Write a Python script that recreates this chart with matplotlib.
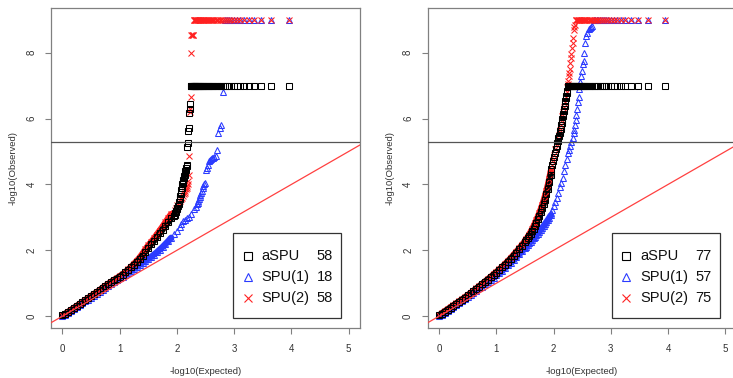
import numpy as np
import matplotlib
matplotlib.use('Agg')
import matplotlib.pyplot as plt
from matplotlib.patches import Rectangle

plt.rcParams['font.family'] = ['Liberation Sans', 'DejaVu Sans']

# ---------------- data ----------------
N_TESTS = 9000          # number of tests (genes) per panel
THRESHOLD = 5.3         # -log10(0.05 / N)
SERIES = ['aSPU', 'SPU(1)', 'SPU(2)']

# legend counts (left panel, right panel)
L_counts = [58, 18, 58]
R_counts = [77, 57, 75]

# ---- LEFT PANEL ----
# bulk of each QQ curve: (-log10 expected, -log10 observed)
L_bulk_exp = [0.00, 0.05, 0.10, 0.15, 0.20, 0.25, 0.30, 0.35, 0.40, 0.45,
              0.50, 0.55, 0.60, 0.65, 0.70, 0.75, 0.80, 0.85, 0.90, 0.95,
              1.00, 1.05, 1.10, 1.15, 1.20, 1.25, 1.30, 1.35, 1.40, 1.45,
              1.50, 1.55, 1.60, 1.65, 1.70, 1.75, 1.80, 1.85, 1.90]
L_aspu_bulk = [0.02, 0.07, 0.12, 0.18, 0.24, 0.30, 0.36, 0.42, 0.48, 0.54,
               0.60, 0.66, 0.72, 0.78, 0.85, 0.91, 0.97, 1.03, 1.09, 1.14,
               1.20, 1.26, 1.33, 1.40, 1.48, 1.56, 1.64, 1.73, 1.84, 1.96,
               2.08, 2.19, 2.29, 2.40, 2.52, 2.63, 2.75, 2.86, 2.97]
L_spu1_bulk = [0.00, 0.05, 0.10, 0.15, 0.21, 0.27, 0.33, 0.39, 0.45, 0.50,
               0.56, 0.62, 0.68, 0.74, 0.80, 0.86, 0.92, 0.98, 1.04, 1.10,
               1.15, 1.20, 1.26, 1.32, 1.38, 1.44, 1.50, 1.56, 1.62, 1.68,
               1.74, 1.80, 1.87, 1.94, 2.02, 2.10, 2.19, 2.28, 2.38]
L_spu2_bulk = [0.02, 0.07, 0.13, 0.19, 0.25, 0.31, 0.37, 0.43, 0.49, 0.55,
               0.61, 0.67, 0.73, 0.79, 0.86, 0.92, 0.98, 1.04, 1.10, 1.15,
               1.21, 1.27, 1.34, 1.42, 1.50, 1.59, 1.68, 1.78, 1.90, 2.03,
               2.15, 2.25, 2.36, 2.48, 2.60, 2.72, 2.85, 2.98, 3.10]
# upper tail: tests capped at the minimum p-value, then by rank
L_aspu_cap, L_aspu_ncap = 7.0, 52
L_aspu_tail_rank = [53, 54, 55, 56, 57, 58, 59, 60, 61, 62, 63, 64, 65, 66,
                    67, 68, 69, 70, 71, 72, 73, 74, 75, 76, 77, 78, 79, 80,
                    82, 84, 86, 88, 90, 92, 94, 96, 98, 100]
L_aspu_tail_obs = [6.45, 6.30, 6.18, 5.72, 5.62, 5.27, 5.15, 4.60, 4.55, 4.50,
                   4.45, 4.40, 4.35, 4.30, 4.25, 4.20, 4.15, 4.10, 4.05, 4.00,
                   3.95, 3.88, 3.82, 3.76, 3.70, 3.65, 3.60, 3.55,
                   3.48, 3.42, 3.36, 3.30, 3.25, 3.20, 3.16, 3.12, 3.08, 3.04]
L_spu1_cap, L_spu1_ncap = 9.0, 13
L_spu1_tail_rank = [14, 15, 16, 17, 18, 19, 20, 21, 22, 23, 24, 25, 26, 27,
                    28, 29, 30, 31, 32, 33, 34, 35, 36, 37, 38, 39, 40,
                    42, 45, 50, 55, 60, 65, 70, 75, 80, 90, 100]
L_spu1_tail_obs = [6.81, 5.80, 5.72, 5.57, 5.06, 4.85, 4.82, 4.80, 4.80, 4.78,
                   4.75, 4.72, 4.60, 4.50, 4.45, 4.05, 4.00, 3.95, 3.88, 3.80,
                   3.74, 3.68, 3.62, 3.55, 3.50, 3.45, 3.40,
                   3.33, 3.25, 3.10, 3.02, 2.97, 2.92, 2.88, 2.80, 2.72, 2.60, 2.50]
L_spu2_cap, L_spu2_ncap = 9.0, 46
L_spu2_tail_rank = [47, 48, 49, 50, 51, 52, 53, 54, 55, 56, 57, 58, 59, 60,
                    62, 64, 66, 68, 70, 73, 76, 80, 84, 88, 92, 96, 100]
L_spu2_tail_obs = [8.55, 8.55, 8.55, 8.55, 8.00, 6.65, 6.30, 6.20, 4.87, 4.30,
                   4.10, 4.02, 3.96, 3.90, 3.85, 3.80, 3.75, 3.70, 3.65,
                   3.60, 3.55, 3.50, 3.44, 3.38, 3.30, 3.22, 3.14]

# ---- RIGHT PANEL ----
R_bulk_exp = [0.00, 0.05, 0.10, 0.15, 0.20, 0.25, 0.30, 0.35, 0.40, 0.45,
              0.50, 0.55, 0.60, 0.65, 0.70, 0.75, 0.80, 0.85, 0.90, 0.95,
              1.00, 1.05, 1.10, 1.15, 1.20, 1.25, 1.30, 1.35, 1.40, 1.45,
              1.50, 1.525, 1.55, 1.575, 1.60, 1.625, 1.65, 1.675, 1.70, 1.725,
              1.75, 1.775, 1.80, 1.825, 1.85, 1.875, 1.90, 1.925, 1.95]
R_aspu_bulk = [0.02, 0.08, 0.14, 0.20, 0.26, 0.32, 0.38, 0.44, 0.50, 0.56,
               0.63, 0.69, 0.76, 0.83, 0.90, 0.97, 1.04, 1.11, 1.18, 1.25,
               1.32, 1.40, 1.48, 1.56, 1.65, 1.74, 1.83, 1.93, 2.03, 2.13,
               2.24, 2.30, 2.36, 2.43, 2.50, 2.58, 2.66, 2.75, 2.84, 2.94,
               3.04, 3.15, 3.27, 3.40, 3.54, 3.70, 3.87, 4.06, 4.30]
R_spu1_bulk = [0.00, 0.05, 0.11, 0.17, 0.23, 0.29, 0.35, 0.41, 0.47, 0.53,
               0.59, 0.65, 0.71, 0.77, 0.84, 0.90, 0.97, 1.03, 1.10, 1.17,
               1.24, 1.31, 1.38, 1.46, 1.54, 1.62, 1.70, 1.79, 1.88, 1.97,
               2.06, 2.11, 2.16, 2.21, 2.26, 2.31, 2.36, 2.41, 2.46, 2.51,
               2.56, 2.62, 2.68, 2.74, 2.80, 2.86, 2.92, 2.99, 3.06]
R_spu2_bulk = [0.03, 0.09, 0.15, 0.21, 0.27, 0.33, 0.39, 0.45, 0.51, 0.57,
               0.64, 0.70, 0.77, 0.84, 0.91, 0.98, 1.05, 1.12, 1.19, 1.27,
               1.34, 1.42, 1.50, 1.58, 1.67, 1.76, 1.86, 1.96, 2.06, 2.17,
               2.28, 2.34, 2.41, 2.48, 2.56, 2.64, 2.73, 2.82, 2.92, 3.02,
               3.13, 3.24, 3.37, 3.50, 3.65, 3.81, 3.98, 4.17, 4.40]
R_aspu_cap, R_aspu_ncap = 7.0, 51
R_aspu_tail_rank = [52, 53, 54, 55, 56, 57, 58, 59, 60, 61, 62, 63, 64, 65,
                    66, 67, 68, 69, 70, 72, 74, 76, 78, 80, 83, 86, 89, 92,
                    95, 98, 100]
R_aspu_tail_obs = [6.85, 6.78, 6.70, 6.62, 6.55, 6.46, 6.38, 6.30, 6.22, 6.15,
                   6.08, 6.00, 5.93, 5.87, 5.80, 5.74, 5.68, 5.62, 5.56,
                   5.48, 5.40, 5.33, 5.26, 5.18, 5.07, 4.96, 4.82, 4.70,
                   4.58, 4.47, 4.40]
R_spu1_cap, R_spu1_ncap = 9.0, 18
R_spu1_tail_rank = [19, 20, 21, 22, 23, 24, 25, 26, 27, 28, 29, 30, 31, 32,
                    33, 34, 35, 36, 37, 38, 39, 40, 42, 44, 46, 48, 50,
                    53, 56, 59, 62, 66, 70, 75, 80, 85, 90, 95, 100]
R_spu1_tail_obs = [8.82, 8.78, 8.75, 8.72, 8.60, 8.50, 8.30, 8.00, 7.75, 7.65,
                   7.45, 7.30, 7.10, 6.90, 6.65, 6.50, 6.30, 6.10, 5.95, 5.80,
                   5.65, 5.55, 5.40, 5.28, 5.16, 5.05, 4.95,
                   4.78, 4.60, 4.40, 4.20, 4.05, 3.92, 3.75, 3.60, 3.47, 3.35,
                   3.22, 3.12]
R_spu2_cap, R_spu2_ncap = 9.0, 37
R_spu2_tail_rank = [38, 39, 40, 41, 42, 43, 44, 45, 46, 47, 48, 49, 50, 51,
                    52, 53, 55, 57, 59, 61, 63, 65, 67, 70, 73, 76, 80, 84,
                    88, 92, 96, 100]
R_spu2_tail_obs = [8.85, 8.78, 8.70, 8.45, 8.30, 8.15, 7.95, 7.85, 7.70, 7.50,
                   7.40, 7.30, 7.15, 7.05, 6.95, 6.82, 6.65, 6.50, 6.35, 6.20,
                   6.08, 5.95, 5.82, 5.65, 5.50, 5.38, 5.22, 5.07, 4.90, 4.75,
                   4.60, 4.48]

# ---------------- style ----------------
COLORS = {'aSPU': '#000000', 'SPU(1)': '#2b3bff', 'SPU(2)': '#ff2020'}
MARKERS = {'aSPU': 's', 'SPU(1)': '^', 'SPU(2)': 'x'}
DRAW_ORDER = ['SPU(1)', 'SPU(2)', 'aSPU']
AX_GRAY = '#808080'


def expected(rank):
    return -np.log10(np.asarray(rank, dtype=float) / (N_TESTS + 1))


def draw_series(ax, name, bulk_exp, bulk_obs, cap, ncap, tail_rank, tail_obs):
    c, m = COLORS[name], MARKERS[name]
    mk = dict(ls='none', marker=m, ms=4.0, mfc='none', mec=c, mew=0.75, zorder=3)
    # dense bulk drawn as a thick band plus markers
    ax.plot(bulk_exp, bulk_obs, color=c, lw=4.6, solid_capstyle='round', zorder=2)
    ax.plot(bulk_exp, bulk_obs, **mk)
    # upper tail
    ax.plot(expected(tail_rank), tail_obs, **mk)
    cap_rank = np.arange(1, ncap + 1)
    ax.plot(expected(cap_rank), np.full(ncap, cap), **mk)


def style_axes(ax):
    ax.set_xlim(-0.2, 5.2)
    ax.set_ylim(-0.36, 9.36)
    ax.set_xticks([0, 1, 2, 3, 4, 5])
    ax.set_yticks([0, 2, 4, 6, 8])
    for s in ax.spines.values():
        s.set_color(AX_GRAY)
        s.set_linewidth(0.9)
    ax.tick_params(axis='both', direction='out', length=4, width=0.8,
                   color=AX_GRAY, labelsize=7, labelcolor='#333333')
    ax.tick_params(axis='x', pad=7.5)
    ax.tick_params(axis='y', pad=6.5)
    for lab in ax.get_yticklabels():
        lab.set_rotation(90)
        lab.set_va('center')
    ax.set_xlabel('-log10(Expected)', fontsize=6.8, color='#333333')
    ax.set_ylabel('-log10(Observed)', fontsize=6.8, color='#333333')
    ax.xaxis.set_label_coords(0.5, -0.1375)
    ax.xaxis.label.set_va('center')
    ax.yaxis.set_label_coords(-0.122, 0.5)
    ax.yaxis.label.set_va('center')
    ax.axhline(THRESHOLD, color='#555555', lw=0.9, zorder=4)
    ax.axline((0, 0), (1, 1), color='#ff4040', lw=0.9, zorder=4)


def draw_legend(ax, x0, counts):
    ax.add_patch(Rectangle((x0, 0.031), 0.351, 0.266, transform=ax.transAxes,
                           facecolor='white', edgecolor='#333333', lw=0.9,
                           zorder=5))
    rows_y = [0.225, 0.160, 0.095]
    mx, tx, nx = x0 + 0.048, x0 + 0.093, x0 + 0.323
    for name, cnt, y in zip(SERIES, counts, rows_y):
        ax.plot([mx], [y], transform=ax.transAxes, ls='none',
                marker=MARKERS[name], ms=5.2, mfc='none', mec=COLORS[name],
                mew=0.8, zorder=6, clip_on=False)
        ax.text(tx, y, name, transform=ax.transAxes, fontsize=10.5,
                ha='left', va='center', color='#111111', zorder=6)
        ax.text(nx, y, str(cnt), transform=ax.transAxes, fontsize=10.5,
                ha='right', va='center', color='#111111', zorder=6)


fig = plt.figure(figsize=(7.33, 3.78), dpi=100)
axL = fig.add_axes([51 / 733, 50 / 378, 309 / 733, 320 / 378])
axR = fig.add_axes([427.7 / 733, 50 / 378, 309 / 733, 320 / 378])

L_data = {
    'aSPU': (L_bulk_exp, L_aspu_bulk, L_aspu_cap, L_aspu_ncap, L_aspu_tail_rank, L_aspu_tail_obs),
    'SPU(1)': (L_bulk_exp, L_spu1_bulk, L_spu1_cap, L_spu1_ncap, L_spu1_tail_rank, L_spu1_tail_obs),
    'SPU(2)': (L_bulk_exp, L_spu2_bulk, L_spu2_cap, L_spu2_ncap, L_spu2_tail_rank, L_spu2_tail_obs),
}
R_data = {
    'aSPU': (R_bulk_exp, R_aspu_bulk, R_aspu_cap, R_aspu_ncap, R_aspu_tail_rank, R_aspu_tail_obs),
    'SPU(1)': (R_bulk_exp, R_spu1_bulk, R_spu1_cap, R_spu1_ncap, R_spu1_tail_rank, R_spu1_tail_obs),
    'SPU(2)': (R_bulk_exp, R_spu2_bulk, R_spu2_cap, R_spu2_ncap, R_spu2_tail_rank, R_spu2_tail_obs),
}

for ax, data, counts, lx in [(axL, L_data, L_counts, 0.589),
                             (axR, R_data, R_counts, 0.595)]:
    for name in DRAW_ORDER:
        draw_series(ax, name, *data[name])
    style_axes(ax)
    draw_legend(ax, lx, counts)

fig.savefig('out.png', dpi=100)
